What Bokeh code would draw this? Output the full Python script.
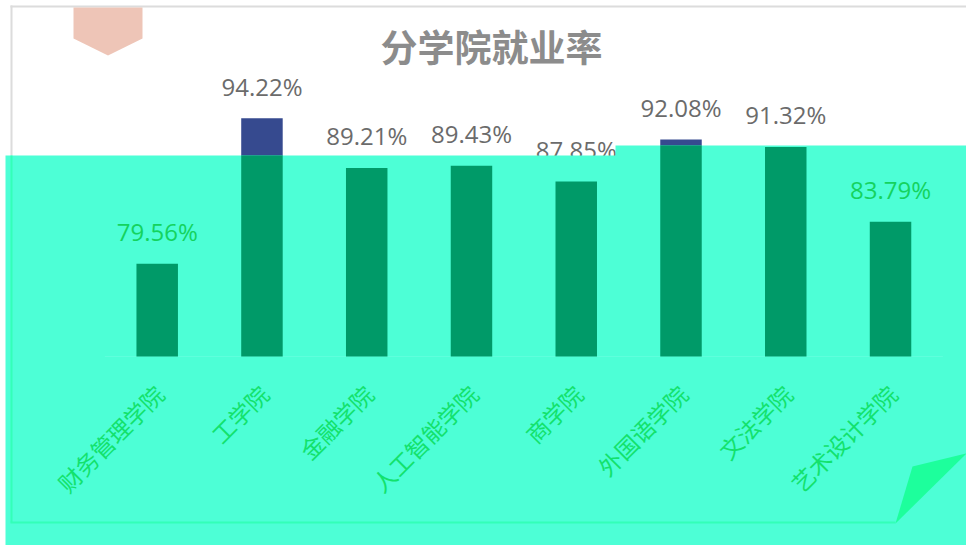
import numpy as np
from bokeh.plotting import figure
from bokeh.models import Range1d, ColumnDataSource
from bokeh.core.properties import value
from bokeh.embed import file_html
from bokeh.resources import INLINE

# ---------------- data ----------------
title_text = "分学院就业率"
colleges = ["财务管理学院", "工学院", "金融学院", "人工智能学院",
            "商学院", "外国语学院", "文法学院", "艺术设计学院"]
rates = [79.56, 94.22, 89.21, 89.43, 87.85, 92.08, 91.32, 83.79]
rate_labels = [f"{r:.2f}%" for r in rates]

# ---------------- layout constants ----------------
W, H = 966, 545          # canvas size
OX, OY = 0, 0            # page offset of canvas
PX_Y = 9.93              # pixels per percentage point
BASE_VAL = 70.22         # value axis minimum (bar baseline)
BASE_PAGE_Y = 356        # baseline on page
PX_X = 104.76            # pixels per category
X0_PAGE = 156.7          # first category centre on page
BAR_W = 0.396

y_end = BASE_VAL + (BASE_PAGE_Y - OY) / PX_Y
y_start = y_end - H / PX_Y
x_start = -(X0_PAGE - OX) / PX_X
x_end = x_start + W / PX_X

p = figure(width=W, height=H, x_range=Range1d(x_start, x_end),
           y_range=Range1d(y_start, y_end), x_axis_type=None, y_axis_type=None,
           toolbar_location=None, output_backend="svg", min_border=0)
p.title.visible = False
p.outline_line_color = None
p.background_fill_color = "white"
p.border_fill_color = "white"
p.extra_x_ranges = {"px": Range1d(OX, OX + W)}
p.extra_y_ranges = {"px": Range1d(OY + H, OY)}

n = len(colleges)
xs = list(range(n))

# overlay cut (page y) per category
OV_STEP_X = 615
def cut_page(i):
    return 155 if X0_PAGE + i * PX_X < OV_STEP_X else 145

cut_vals = [BASE_VAL + (BASE_PAGE_Y - cut_page(i)) / PX_Y for i in xs]
green_top = [min(r, c) for r, c in zip(rates, cut_vals)]
LABEL_GAP = 22      # visual gap between text bottom and bar top
LABEL_PLACE = 32    # placement offset of the text anchor
label_y = [r + LABEL_PLACE / PX_Y for r in rates]
inside = [(BASE_PAGE_Y - (r - BASE_VAL) * PX_Y - LABEL_GAP - 17) >= cut_page(i)
          for i, r in enumerate(rates)]

src = ColumnDataSource(dict(x=xs, rate=rates, label=rate_labels, ly=label_y,
                            gtop=green_top, base=[BASE_VAL] * n))
gsrc = ColumnDataSource(dict(
    x=[x for x, k in zip(xs, inside) if k],
    ly=[y for y, k in zip(label_y, inside) if k],
    label=[l for l, k in zip(rate_labels, inside) if k]))
csrc = ColumnDataSource(dict(
    x=[i + 2 / PX_X for i in xs],
    y=[BASE_VAL - 33 / PX_Y] * n,
    college=colleges))

px = dict(x_range_name="px", y_range_name="px")

# slide frame (gray)
p.line([11, 11], [5, 155], line_color="#dcdcdc", line_width=2, **px)
p.line([10, 966], [6, 6], line_color="#dcdcdc", line_width=2, **px)
# pentagon decoration
p.patch([73, 142, 142, 107.5, 73], [7, 7, 38, 55, 38],
        fill_color="#eec5b7", line_color=None, **px)
# title
p.text([491], [45], text=[title_text], text_font=value("Noto Sans CJK SC"),
       text_font_size=value("37px"), text_font_style="bold",
       text_color="#8c8c8c", text_align="center", text_baseline="middle", **px)

# blue bars and gray labels
p.vbar(x="x", width=BAR_W, bottom="base", top="rate", source=src,
       fill_color="#364a8f", line_color=None)
p.text(x="x", y="ly", text="label", source=src, text_font=value("Open Sans"),
       text_font_size=value("24px"), text_color="#6b6b6b",
       text_align="center", text_baseline="alphabetic")

# aqua overlay
p.patch([5, OV_STEP_X, OV_STEP_X, 966, 966, 5], [155, 155, 145, 145, 545, 545],
        fill_color="#4dffd6", line_color=None, **px)
p.line([11, 11], [155, 522], line_color="#33ffb8", line_width=2, **px)
p.line([10, 895], [522, 522], line_color="#33ffb8", line_width=2, **px)
p.patch([895, 912, 966], [523, 466, 453], fill_color="#1dff9c", line_color=None, **px)

# baseline
p.line([-0.5, n - 0.5], [BASE_VAL, BASE_VAL], line_color="#5effdc", line_width=1)

# green bars (inside overlay)
p.vbar(x="x", width=BAR_W, bottom="base", top="gtop", source=src,
       fill_color="#009a68", line_color=None)
p.text(x="x", y="ly", text="label", source=gsrc, text_font=value("Open Sans"),
       text_font_size=value("24px"), text_color="#14d35e",
       text_align="center", text_baseline="alphabetic")

# category labels
p.text(x="x", y="y", text="college", source=csrc, angle=np.pi / 4,
       text_font=value("Noto Sans CJK SC"), text_font_size=value("23px"),
       text_color="#12e26c", text_align="right", text_baseline="middle")

open("out.html", "w").write(file_html(p, INLINE))
